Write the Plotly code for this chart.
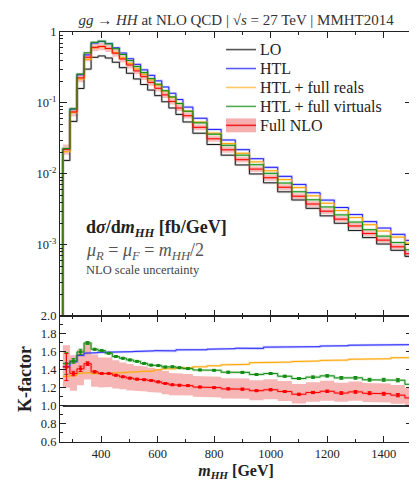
import plotly.graph_objects as go
from plotly.subplots import make_subplots

# bin edges in m_HH [GeV]
bin_edges = [265, 290, 315, 340, 365, 390, 415, 440, 465, 490, 515, 540, 565, 590,
             615, 640, 665, 690, 725, 775, 825, 875, 925, 975, 1025, 1075, 1125,
             1175, 1225, 1275, 1325, 1375, 1425, 1475, 1525]

# dsigma/dm_HH [fb/GeV]
lo = [0.0155, 0.055, 0.16, 0.30, 0.44, 0.46, 0.43, 0.375, 0.315, 0.262, 0.218, 0.182,
      0.152, 0.127, 0.104, 0.085, 0.069, 0.054, 0.0375, 0.026, 0.0184, 0.0134, 0.0100,
      0.0075, 0.0056, 0.0043, 0.00328, 0.00257, 0.00202, 0.0016, 0.00127, 0.00103,
      0.00084, 0.00069]
htl = [0.0223, 0.0820, 0.250, 0.476, 0.700, 0.734, 0.687, 0.600, 0.505, 0.420, 0.350,
       0.293, 0.245, 0.205, 0.168, 0.137, 0.112, 0.0875, 0.0609, 0.0424, 0.0301, 0.0220,
       0.0164, 0.0124, 0.00925, 0.00712, 0.00544, 0.00428, 0.00337, 0.00268, 0.00213,
       0.00173, 0.00141, 0.00116]
htl_reals = [0.0206, 0.0737, 0.218, 0.411, 0.598, 0.623, 0.585, 0.512, 0.432, 0.360,
             0.301, 0.252, 0.211, 0.178, 0.147, 0.120, 0.0980, 0.0770, 0.0538, 0.0376,
             0.0268, 0.0196, 0.0148, 0.0111, 0.00833, 0.00642, 0.00492, 0.00387,
             0.00305, 0.00243, 0.00193, 0.00157, 0.00129, 0.00106]
htl_virt = [0.0228, 0.0825, 0.256, 0.510, 0.717, 0.743, 0.682, 0.581, 0.482, 0.396,
            0.326, 0.268, 0.221, 0.184, 0.149, 0.122, 0.0983, 0.0764, 0.0525, 0.0363,
            0.0253, 0.0184, 0.0135, 0.0102, 0.00745, 0.00561, 0.00433, 0.00343,
            0.00265, 0.00210, 0.00164, 0.00133, 0.00108, 0.000856]
full_nlo = [0.0222, 0.0748, 0.226, 0.441, 0.607, 0.626, 0.585, 0.503, 0.417, 0.343,
            0.283, 0.235, 0.195, 0.161, 0.130, 0.105, 0.0849, 0.0662, 0.0454, 0.0313,
            0.0219, 0.0159, 0.0117, 0.00885, 0.0065, 0.00486, 0.00377, 0.00299,
            0.00231, 0.00185, 0.00145, 0.00117, 0.000941, 0.000752]

# NLO scale uncertainty (relative, up / down)
scale_up = [0.17, 0.15, 0.15, 0.16, 0.14, 0.13, 0.13, 0.125, 0.12, 0.12, 0.115, 0.115,
            0.11, 0.11, 0.11, 0.105, 0.105, 0.105, 0.10, 0.10, 0.10, 0.10, 0.10, 0.10,
            0.10, 0.10, 0.10, 0.10, 0.10, 0.10, 0.10, 0.10, 0.10, 0.10]
scale_down = [0.16, 0.14, 0.13, 0.12, 0.12, 0.115, 0.11, 0.11, 0.105, 0.105, 0.10, 0.10,
              0.10, 0.095, 0.095, 0.095, 0.09, 0.09, 0.09, 0.09, 0.09, 0.09, 0.09, 0.09,
              0.09, 0.09, 0.09, 0.09, 0.085, 0.085, 0.085, 0.085, 0.085, 0.085]

# integration errors on the K-factor
err_virt = [0.12, 0.025, 0.03, 0.015, 0.01, 0.008, 0.008, 0.008, 0.008, 0.008, 0.008,
            0.008, 0.008, 0.008, 0.008, 0.008, 0.008, 0.008, 0.008, 0.008, 0.01, 0.01,
            0.01, 0.01, 0.01, 0.01, 0.012, 0.012, 0.014, 0.014, 0.016, 0.016, 0.018, 0.02]
err_nlo = [0.15, 0.025, 0.03, 0.02, 0.012, 0.008, 0.008, 0.008, 0.008, 0.008, 0.008,
           0.008, 0.008, 0.008, 0.008, 0.008, 0.008, 0.008, 0.008, 0.008, 0.01, 0.01,
           0.01, 0.01, 0.01, 0.01, 0.012, 0.012, 0.014, 0.014, 0.016, 0.016, 0.018, 0.02]

legend_labels = ["LO", "HTL", "HTL + full reals", "HTL + full virtuals", "Full NLO"]
legend_colors = ["#555555", "#5a5aff", "#ffc866", "#55aa55", "#ee2222"]

FONT = "Liberation Serif"


def steps(edges, vals, base=None):
    xs, ys = [], []
    if base is not None:
        xs.append(edges[0])
        ys.append(base)
    for i, v in enumerate(vals):
        xs += [edges[i], edges[i + 1]]
        ys += [v, v]
    return xs, ys


def ratio(a, b):
    return [x / y for x, y in zip(a, b)]


centers = [(bin_edges[i] + bin_edges[i + 1]) / 2 for i in range(len(lo))]
nlo_hi = [v * (1 + u) for v, u in zip(full_nlo, scale_up)]
nlo_lo = [v * (1 - d) for v, d in zip(full_nlo, scale_down)]

fig = make_subplots(rows=2, cols=1, shared_xaxes=True, vertical_spacing=0,
                    row_heights=[0.6925, 0.3075])

series = [
    ("LO", lo, "#1a1a1a", "rgba(120,120,120,0.28)"),
    ("HTL", htl, "#2020ff", "rgba(80,80,255,0.28)"),
    ("HTL + full reals", htl_reals, "#ffa500", "rgba(255,190,80,0.35)"),
    ("Full NLO", full_nlo, "#ff0000", "rgba(255,60,60,0.22)"),
    ("HTL + full virtuals", htl_virt, "#148c14", "rgba(40,160,40,0.28)"),
]

# scale band, upper panel
bx, by_hi = steps(bin_edges, nlo_hi)
_, by_lo = steps(bin_edges, nlo_lo)
fig.add_trace(go.Scatter(x=bx + bx[::-1], y=by_hi + by_lo[::-1], fill="toself",
                         fillcolor="rgba(238,110,110,0.42)", line=dict(width=0),
                         mode="lines", showlegend=False, hoverinfo="skip"), row=1, col=1)

# scale band, lower panel
kx, ky_hi = steps(bin_edges, ratio(nlo_hi, lo))
_, ky_lo = steps(bin_edges, ratio(nlo_lo, lo))
fig.add_trace(go.Scatter(x=kx + kx[::-1], y=ky_hi + ky_lo[::-1], fill="toself",
                         fillcolor="rgba(238,110,110,0.5)", line=dict(width=0),
                         mode="lines", showlegend=False, hoverinfo="skip"), row=2, col=1)

for name, vals, col, light in series:
    xs, ys = steps(bin_edges, vals, base=1e-5)
    fig.add_trace(go.Scatter(x=xs, y=ys, mode="lines", line=dict(color=light, width=2.6),
                             showlegend=False, hoverinfo="skip"), row=1, col=1)
    fig.add_trace(go.Scatter(x=xs, y=ys, mode="lines", line=dict(color=col, width=1),
                             showlegend=False, name=name), row=1, col=1)
    kxs, kys = steps(bin_edges, ratio(vals, lo))
    if name == "LO":
        fig.add_trace(go.Scatter(x=kxs, y=kys, mode="lines",
                                 line=dict(color="#333333", width=1.8),
                                 showlegend=False, name=name), row=2, col=1)
        continue
    fig.add_trace(go.Scatter(x=kxs, y=kys, mode="lines", line=dict(color=light, width=2.6),
                             showlegend=False, hoverinfo="skip"), row=2, col=1)
    fig.add_trace(go.Scatter(x=kxs, y=kys, mode="lines", line=dict(color=col, width=1),
                             showlegend=False, name=name), row=2, col=1)

# K-factor points with integration errors
for vals, err, col in [(htl_virt, err_virt, "#148c14"), (full_nlo, err_nlo, "#ff0000")]:
    fig.add_trace(go.Scatter(x=centers, y=ratio(vals, lo), mode="markers",
                             marker=dict(symbol="square", size=3, color=col),
                             error_y=dict(type="data", array=err, color=col,
                                          thickness=1, width=2),
                             showlegend=False), row=2, col=1)

# legend drawn by hand (tighter spacing than plotly's legend)
leg_x0, leg_x1, leg_tx = 0.4716, 0.5568, 0.563
leg_y0, leg_dy = 0.9571, 0.0462
for i, (lab, col) in enumerate(zip(legend_labels, legend_colors)):
    yy = leg_y0 - i * leg_dy
    if lab == "Full NLO":
        fig.add_shape(type="rect", xref="paper", yref="paper", x0=leg_x0, x1=leg_x1,
                      y0=yy - 0.017, y1=yy + 0.017, fillcolor="rgba(238,110,110,0.55)",
                      line=dict(width=0))
    fig.add_shape(type="line", xref="paper", yref="paper", x0=leg_x0, x1=leg_x1,
                  y0=yy, y1=yy, line=dict(color=col, width=1.6))
    fig.add_annotation(xref="paper", yref="paper", x=leg_tx, y=yy, xanchor="left",
                       yanchor="middle", showarrow=False, text=lab,
                       font=dict(family=FONT, size=16, color="#222222"))

axis_common = dict(showline=True, linecolor="#222222", linewidth=1.2, mirror="allticks",
                   ticks="inside", tickcolor="#222222", showgrid=False, zeroline=False,
                   tickfont=dict(family=FONT, size=12.5, color="#222222"))

fig.update_xaxes(range=[255, 1500], dtick=200, tick0=0, ticklen=6,
                 minor=dict(ticks="inside", dtick=100, ticklen=3, tickcolor="#222222"),
                 **axis_common)
fig.update_xaxes(showticklabels=False, row=1, col=1)
fig.update_xaxes(title=dict(text="<b><i>m</i><sub><i>HH</i></sub> [GeV]</b>",
                            font=dict(family=FONT, size=16, color="#222222"), standoff=4),
                 row=2, col=1)

minor_log = [m * 10 ** e for e in range(-4, 0) for m in range(2, 10)]
fig.update_yaxes(type="log", range=[-4, 0], tickvals=[1, 0.1, 0.01, 0.001],
                 ticktext=["1", "10<sup>-1</sup>", "10<sup>-2</sup>", "10<sup>-3</sup>"],
                 ticklen=7, minor=dict(ticks="inside", tickvals=minor_log, ticklen=3,
                                       tickcolor="#222222"),
                 row=1, col=1, **axis_common)
fig.update_yaxes(range=[0.6, 2.0], dtick=0.2, tick0=0, tickformat=".1f", ticklen=6,
                 minor=dict(ticks="inside", dtick=0.1, ticklen=3, tickcolor="#222222"),
                 title=dict(text="<b>K-factor</b>",
                            font=dict(family=FONT, size=18, color="#222222"), standoff=4),
                 row=2, col=1, **axis_common)

fig.add_annotation(xref="paper", yref="paper", x=0.068, y=0.521, xanchor="left",
                   yanchor="middle", showarrow=False,
                   text="<b>d<i>σ</i>/d<i>m</i><sub><i>HH</i></sub> [fb/GeV]</b>",
                   font=dict(family=FONT, size=18, color="#222222"))
fig.add_annotation(xref="paper", yref="paper", x=0.068, y=0.464, xanchor="left",
                   yanchor="middle", showarrow=False,
                   text="<i>μ</i><sub><i>R</i></sub> = <i>μ</i><sub><i>F</i></sub> = "
                        "<i>m</i><sub><i>HH</i></sub>/2",
                   font=dict(family=FONT, size=18, color="#555555"))
fig.add_annotation(xref="paper", yref="paper", x=0.068, y=0.419, xanchor="left",
                   yanchor="middle", showarrow=False, text="NLO scale uncertainty",
                   font=dict(family=FONT, size=12.5, color="#444444"))

fig.update_layout(
    width=417, height=480,
    margin=dict(l=52, r=13, t=24, b=43),
    plot_bgcolor="white", paper_bgcolor="white",
    title=dict(text="<i>gg</i> → <i>HH</i> at NLO QCD | √<i>s</i> = 27 TeV | MMHT2014",
               x=0.547, xanchor="center", y=0.975, yanchor="middle",
               font=dict(family=FONT, size=15, color="#333333")),
    showlegend=False,
    font=dict(family=FONT),
)

fig.write_html("out.html")
